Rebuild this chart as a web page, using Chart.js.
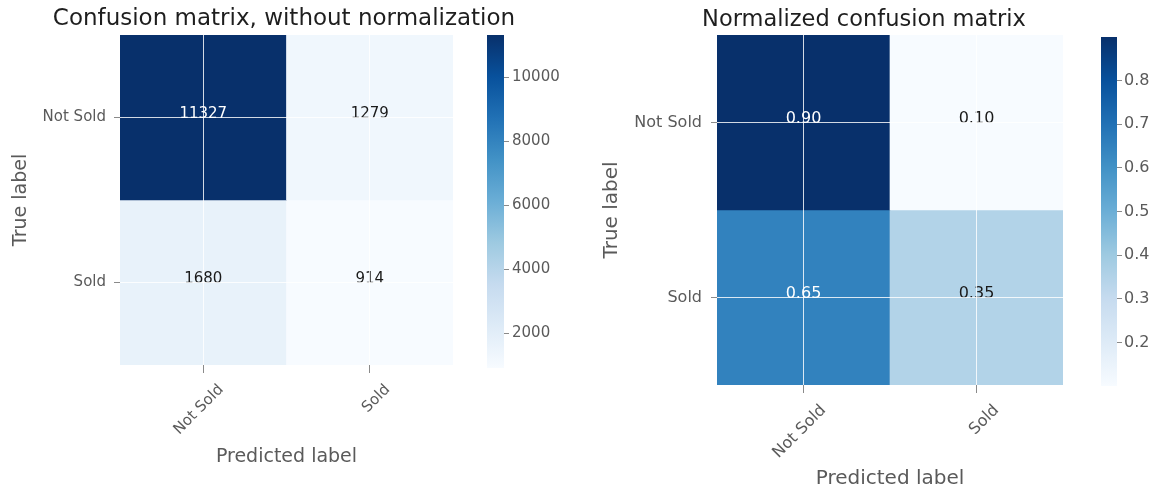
<!DOCTYPE html>
<html>
<head>
<meta charset="utf-8">
<script src="https://cdn.jsdelivr.net/npm/chart.js@4.4.1/dist/chart.umd.min.js"></script>
<style>
  html, body { margin: 0; padding: 0; background: #ffffff; }
  #stage { position: relative; width: 1159px; height: 490px; overflow: hidden; background: #ffffff; }
  #stage canvas { position: absolute; top: 0; }
</style>
</head>
<body>
<div id="stage">
  <canvas id="cmCounts" width="568" height="490" style="left:0px"></canvas>
  <canvas id="cbCounts" width="100" height="490" style="left:470px"></canvas>
  <canvas id="cmNorm" width="548" height="490" style="left:590px"></canvas>
  <canvas id="cbNorm" width="74" height="490" style="left:1085px"></canvas>
</div>
<script>
// Class names shared by both matrices (rows = true label, columns = predicted label)
const classNames = ['Not Sold', 'Sold'];

// Raw counts
const countRows = [
  [11327, 1279],
  [1680, 914]
];

// Row-normalized rates
const normRows = [
  [0.90, 0.10],
  [0.65, 0.35]
];

// Colorbar tick values
const countBarTicks = [2000, 4000, 6000, 8000, 10000];
const normBarTicks = [0.2, 0.3, 0.4, 0.5, 0.6, 0.7, 0.8];

const FONT = '"DejaVu Sans", "Liberation Sans", sans-serif';
const LABEL_GREY = '#5a5a5a';
const TITLE_INK = '#1e1e1e';
const TICK_MARK = '#8a8a8a';
const GRID_LINE = 'rgba(255,255,255,0.82)';

// Sequential "Blues" palette
const BLUES = [
  [247, 251, 255], [222, 235, 247], [198, 219, 239], [158, 202, 225],
  [107, 174, 214], [66, 146, 198], [33, 113, 181], [8, 81, 156], [8, 48, 107]
];

function blues(t) {
  t = Math.max(0, Math.min(1, t));
  const p = t * (BLUES.length - 1);
  const i = Math.min(BLUES.length - 2, Math.floor(p));
  const f = p - i;
  const a = BLUES[i], b = BLUES[i + 1];
  const c = a.map((v, k) => Math.round(v + (b[k] - v) * f));
  return `rgb(${c[0]},${c[1]},${c[2]})`;
}

// Writes each cell's value at the cell centre (baseline on the centre line)
function cellTextPlugin(rows, digits, fontSize) {
  const flat = rows.flat();
  const thresh = Math.max(...flat) / 2;
  return {
    id: 'cellText',
    afterDatasetsDraw(chart) {
      const { ctx, scales: { x, y } } = chart;
      ctx.save();
      ctx.font = `${fontSize}px ${FONT}`;
      ctx.textAlign = 'center';
      ctx.textBaseline = 'alphabetic';
      rows.forEach((row, i) => {
        row.forEach((v, j) => {
          ctx.fillStyle = v > thresh ? '#ffffff' : '#1a1a1a';
          ctx.fillText(v.toFixed(digits), x.getPixelForValue(j), y.getPixelForValue(i + 0.5));
        });
      });
      ctx.restore();
    }
  };
}

function matrixChart(id, rows, cfg) {
  const flat = rows.flat();
  const lo = Math.min(...flat), hi = Math.max(...flat);
  const datasets = rows.map((row, i) => ({
    data: row.map(() => [i, i + 1]),
    backgroundColor: row.map(v => blues((v - lo) / (hi - lo))),
    borderWidth: 0,
    barPercentage: 1,
    categoryPercentage: 1,
    grouped: false
  }));

  return new Chart(document.getElementById(id), {
    type: 'bar',
    data: { labels: classNames, datasets },
    options: {
      responsive: false,
      animation: false,
      events: [],
      layout: { padding: 0 },
      plugins: {
        legend: { display: false },
        tooltip: { enabled: false },
        title: {
          display: true,
          text: cfg.title,
          color: TITLE_INK,
          font: { family: FONT, size: cfg.titleSize, weight: 'normal', lineHeight: 1.2 },
          padding: cfg.titlePad
        }
      },
      scales: {
        x: {
          type: 'category',
          offset: true,
          position: 'bottom',
          afterFit: s => { s.height = cfg.xHeight; },
          border: { display: false },
          grid: {
            offset: false, color: GRID_LINE, lineWidth: 1, z: 1,
            drawTicks: true, tickLength: 8, tickColor: TICK_MARK, tickWidth: 1
          },
          ticks: {
            color: LABEL_GREY,
            font: { family: FONT, size: cfg.tickSize },
            minRotation: 45, maxRotation: 45, autoSkip: false,
            padding: 8, labelOffset: cfg.labelOffset
          },
          title: {
            display: true, text: 'Predicted label', color: LABEL_GREY,
            font: { family: FONT, size: cfg.axisTitleSize, lineHeight: 1 },
            padding: { top: 0, bottom: cfg.xTitlePad }
          }
        },
        y: {
          type: 'linear',
          reverse: true,
          min: 0,
          max: rows.length,
          position: 'left',
          afterFit: s => { s.width = cfg.yWidth; },
          afterBuildTicks: s => { s.ticks = classNames.map((_, i) => ({ value: i + 0.5 })); },
          border: { display: false },
          grid: {
            color: GRID_LINE, lineWidth: 1, z: 1,
            drawTicks: true, tickLength: 6, tickColor: TICK_MARK, tickWidth: 1
          },
          ticks: {
            color: LABEL_GREY,
            font: { family: FONT, size: cfg.tickSize },
            autoSkip: false,
            padding: cfg.yTickPad,
            callback: (v, i) => classNames[i]
          },
          title: {
            display: true, text: 'True label', color: LABEL_GREY,
            font: { family: FONT, size: cfg.axisTitleSize, lineHeight: 1 },
            padding: { top: cfg.yTitlePad, bottom: 0 }
          }
        },
        // empty right-hand gutter that leaves room beside the matrix for the colorbar
        gutter: {
          type: 'linear',
          position: 'right',
          afterFit: s => { s.width = cfg.rightGap; },
          border: { display: false },
          grid: { display: false },
          ticks: { display: false }
        }
      }
    },
    plugins: [cellTextPlugin(rows, cfg.digits, cfg.cellSize)]
  });
}

function colorBar(id, rows, tickValues, cfg) {
  const flat = rows.flat();
  const lo = Math.min(...flat), hi = Math.max(...flat);
  return new Chart(document.getElementById(id), {
    type: 'bar',
    data: {
      labels: [''],
      datasets: [{
        data: [[lo, hi]],
        borderWidth: 0,
        barPercentage: 1,
        categoryPercentage: 1,
        backgroundColor: c => {
          const chart = c.chart;
          const ys = chart.scales.y;
          if (!chart.chartArea || !ys) return blues(0.5);
          const g = chart.ctx.createLinearGradient(0, ys.getPixelForValue(lo), 0, ys.getPixelForValue(hi));
          BLUES.forEach((rgb, k) => g.addColorStop(k / (BLUES.length - 1), `rgb(${rgb[0]},${rgb[1]},${rgb[2]})`));
          return g;
        }
      }]
    },
    options: {
      responsive: false,
      animation: false,
      events: [],
      layout: { padding: cfg.pad },
      plugins: { legend: { display: false }, tooltip: { enabled: false } },
      scales: {
        x: { display: false, offset: true },
        y: {
          position: 'right',
          min: lo,
          max: hi,
          afterFit: s => { s.width = cfg.width; },
          afterBuildTicks: s => { s.ticks = tickValues.map(v => ({ value: v })); },
          border: { display: false },
          grid: {
            drawOnChartArea: false, drawTicks: true,
            tickLength: 5, tickColor: TICK_MARK, tickWidth: 1
          },
          ticks: {
            color: LABEL_GREY,
            font: { family: FONT, size: cfg.tickSize },
            padding: cfg.tickPad,
            autoSkip: false,
            callback: v => v.toFixed(cfg.digits)
          }
        }
      }
    }
  });
}

// Left panel: raw counts
matrixChart('cmCounts', countRows, {
  title: 'Confusion matrix, without normalization',
  titleSize: 23,
  titlePad: { top: 5, bottom: 2.4 },
  rightGap: 115,
  xHeight: 125,
  yWidth: 120,
  tickSize: 15,
  axisTitleSize: 19,
  cellSize: 15,
  labelOffset: 18,
  xTitlePad: 23,
  yTitlePad: 12,
  yTickPad: 8,
  digits: 0
});
colorBar('cbCounts', countRows, countBarTicks, {
  pad: { left: 17, right: 0, top: 35, bottom: 122 },
  width: 66,
  tickSize: 15,
  tickPad: 3,
  digits: 0
});

// Right panel: normalized rates
matrixChart('cmNorm', normRows, {
  title: 'Normalized confusion matrix',
  titleSize: 22.5,
  titlePad: { top: 6.5, bottom: 1.5 },
  rightGap: 75,
  xHeight: 105,
  yWidth: 127,
  tickSize: 16,
  axisTitleSize: 20,
  cellSize: 16,
  labelOffset: 20,
  xTitlePad: 1,
  yTitlePad: 12,
  yTickPad: 9,
  digits: 2
});
colorBar('cbNorm', normRows, normBarTicks, {
  pad: { left: 16, right: 0, top: 37, bottom: 104 },
  width: 42,
  tickSize: 16,
  tickPad: 2,
  digits: 1
});
</script>
</body>
</html>
